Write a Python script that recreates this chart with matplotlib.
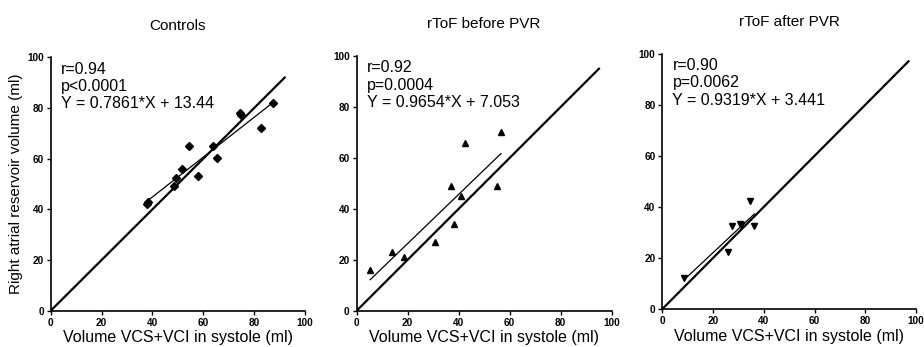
import numpy as np
import matplotlib.pyplot as plt

plt.rcParams['font.family'] = ['Liberation Sans', 'DejaVu Sans']

# Controls
ctrl_x = [37.7, 38.3, 48.5, 49.4, 51.7, 54.3, 57.9, 63.7, 65.4, 74.3, 74.8, 82.6, 87.5]
ctrl_y = [42.1, 43.0, 49.2, 52.2, 56.1, 65.1, 53.1, 65.0, 60.1, 78.1, 77.3, 72.1, 82.1]

# rToF before PVR
pre_x = [5.3, 13.8, 18.7, 30.6, 36.9, 38.2, 41.0, 42.6, 55.1, 56.6]
pre_y = [16.1, 23.0, 21.2, 27.0, 49.0, 34.2, 44.9, 66.0, 49.0, 70.0]

# rToF after PVR
post_x = [8.6, 26.0, 27.6, 30.7, 31.1, 36.3, 34.7]
post_y = [12.3, 22.3, 32.4, 33.3, 32.8, 32.4, 42.2]

titles = ["Controls", "rToF before PVR", "rToF after PVR"]
stats = [("0.94", "p<0.0001", 0.7861, 13.44),
         ("0.92", "p=0.0004", 0.9654, 7.053),
         ("0.90", "p=0.0062", 0.9319, 3.441)]
identity_end = [92, 95, 97]
markers = ['D', '^', 'v']
msizes = [3.8, 4.8, 4.8]
ticks = [0, 20, 40, 60, 80, 100]

xs = [ctrl_x, pre_x, post_x]
ys = [ctrl_y, pre_y, post_y]

fig = plt.figure(figsize=(9.24, 3.47), dpi=100)
positions = [[0.0549, 0.1046, 0.2752, 0.7303],
             [0.3860, 0.1046, 0.2760, 0.7340],
             [0.7168, 0.1095, 0.2746, 0.7357]]

for i in range(3):
    ax = fig.add_axes(positions[i])
    x = np.array(xs[i])
    y = np.array(ys[i])
    r, p, slope, icpt = stats[i]

    # line of identity
    ax.plot([0, identity_end[i]], [0, identity_end[i]], color='black', lw=1.6)
    # regression line over the data range
    xr = np.array([x.min(), x.max()])
    ax.plot(xr, slope * xr + icpt, color='black', lw=0.9)
    ax.plot(x, y, linestyle='none', marker=markers[i], ms=msizes[i], color='black')

    ax.text(4, 98.3, "r=%s\n%s\nY = %s*X + %s" % (r, p, slope, icpt),
            va='top', ha='left', fontsize=11.5, linespacing=1.2)

    ax.set_xlim(0, 100)
    ax.set_ylim(0, 100)
    ax.set_xticks(ticks)
    ax.set_yticks(ticks)
    for lab in ax.get_xticklabels() + ax.get_yticklabels():
        lab.set_fontweight('bold')
    ax.tick_params(labelsize=7.2, length=3, width=1, pad=2)
    for s in ['top', 'right']:
        ax.spines[s].set_visible(False)
    for s in ['left', 'bottom']:
        ax.spines[s].set_linewidth(1.2)

    ax.set_title(titles[i], fontsize=11, pad=20)
    ax.set_xlabel("Volume VCS+VCI in systole (ml)", fontsize=11.5, labelpad=2)
    if i == 0:
        ax.set_ylabel("Right atrial reservoir volume (ml)", fontsize=11, labelpad=3)

plt.savefig('out.png', dpi=100)
